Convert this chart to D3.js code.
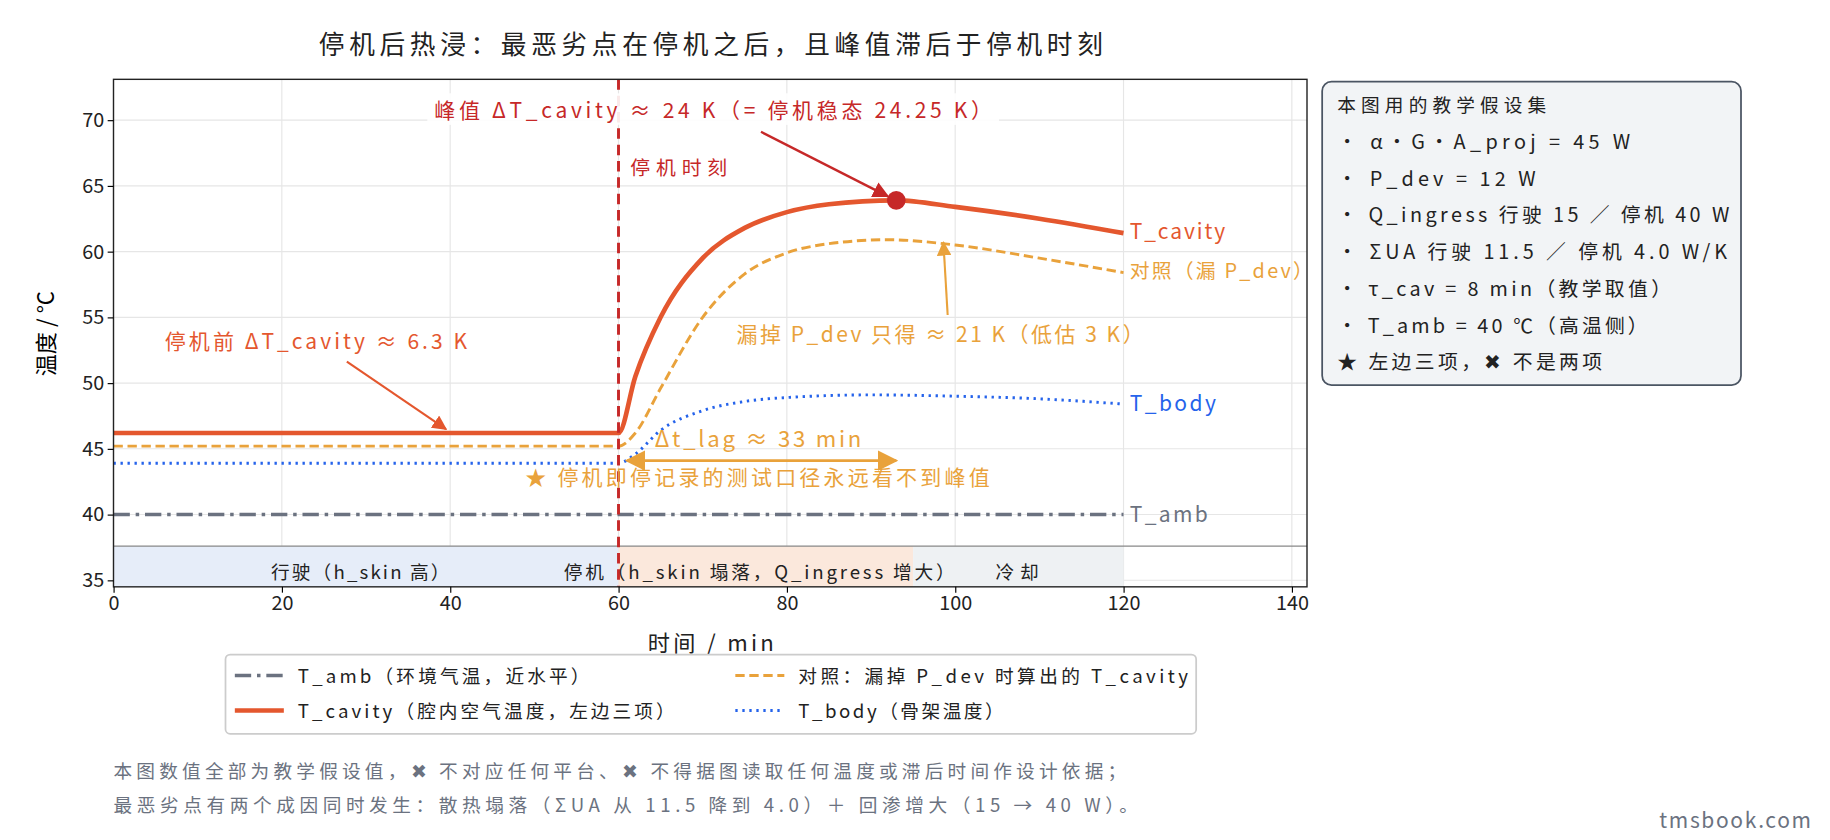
<!DOCTYPE html><html><head><meta charset="utf-8"><script src="https://cdn.jsdelivr.net/npm/d3@7"></script>
<style>body{margin:0;background:#fff}text{font-family:"Noto Sans CJK SC","Noto Sans",sans-serif}</style></head><body>
<svg id="c" width="1830" height="840" viewBox="0 0 1568 720"></svg>
<script>
const tCav=[0,60,62,65,70,75,80,85,93,100,110,120];
const vCav=[46.2,46.2,50.5,55,59.5,61.8,63,63.6,63.9,63.4,62.5,61.4];
const tCtl=[0,60,62,65,70,75,80,85,92,100,110,120];
const vCtl=[45.2,45.2,46.2,49.6,55,58.3,59.9,60.6,60.9,60.5,59.5,58.4];
const tBody=[0,60,62,65,70,75,80,90,100,110,120];
const vBody=[43.9,43.9,44.6,46.4,47.9,48.6,48.9,49.1,49.0,48.8,48.4];
const tAmb=[0,120], vAmb=[40,40];
const xTicks=[0,20,40,60,80,100,120,140], yTicks=[35,40,45,50,55,60,65,70];
const phases=[{a:0,b:60,c:"#e6edf9"},{a:60,b:95,c:"#fbe8dc"},{a:95,b:120,c:"#eef1f3"}];
const svg=d3.select("#c");
const x=d3.scaleLinear().domain([0,141.8]).range([97,1120]);
const y=d3.scaleLinear().domain([34.5,73.1]).range([503,68]);
svg.append("g").selectAll("line").data(xTicks).join("line").attr("x1",d=>x(d)).attr("x2",d=>x(d)).attr("y1",68).attr("y2",503).attr("stroke","#e6e6e6");
svg.append("g").selectAll("line").data(yTicks).join("line").attr("y1",d=>y(d)).attr("y2",d=>y(d)).attr("x1",97).attr("x2",1120).attr("stroke","#e6e6e6");
phases.forEach(p=>svg.append("rect").attr("x",x(p.a)).attr("width",x(p.b)-x(p.a)).attr("y",y(37.6)).attr("height",503-y(37.6)).attr("fill",p.c));
svg.append("line").attr("x1",97).attr("x2",1120).attr("y1",y(37.6)).attr("y2",y(37.6)).attr("stroke","#888").attr("stroke-width",1.2);
const ln=d3.line().x(d=>x(d[0])).y(d=>y(d[1])).curve(d3.curveMonotoneX);
const z=(a,b)=>a.map((t,i)=>[t,b[i]]);
svg.append("path").attr("d",ln(z(tAmb,vAmb))).attr("fill","none").attr("stroke","#6b7280").attr("stroke-width",3).attr("stroke-dasharray","14 5 3 5");
svg.append("path").attr("d",ln(z(tBody,vBody))).attr("fill","none").attr("stroke","#2563eb").attr("stroke-width",2.5).attr("stroke-dasharray","2 4");
svg.append("path").attr("d",ln(z(tCtl,vCtl))).attr("fill","none").attr("stroke","#e9a23b").attr("stroke-width",2.5).attr("stroke-dasharray","8 4");
svg.append("path").attr("d",ln(z(tCav,vCav))).attr("fill","none").attr("stroke","#e4572e").attr("stroke-width",4);
svg.append("line").attr("x1",x(60)).attr("x2",x(60)).attr("y1",68).attr("y2",503).attr("stroke","#c62828").attr("stroke-width",2.5).attr("stroke-dasharray","9 5");
svg.append("circle").attr("cx",x(93)).attr("cy",y(63.9)).attr("r",8).attr("fill","#c62828");
svg.append("rect").attr("x",97).attr("y",68).attr("width",1023).attr("height",435).attr("fill","none").attr("stroke","#222").attr("stroke-width",1.2);
svg.append("g").attr("transform","translate(0,503)").call(d3.axisBottom(x).tickValues(xTicks).tickSize(5)).call(g=>{g.select(".domain").remove();g.selectAll("text").attr("font-size",17).attr("fill","#222")});
svg.append("g").attr("transform","translate(97,0)").call(d3.axisLeft(y).tickValues(yTicks).tickSize(5)).call(g=>{g.select(".domain").remove();g.selectAll("text").attr("font-size",17).attr("fill","#222")});
const T=(s,xx,yy,o={})=>{const t=svg.append("text").attr("x",xx).attr("y",yy).attr("font-size",o.fs||17).attr("fill",o.c||"#222").text(s);if(o.w)t.attr("textLength",o.w).attr("lengthAdjust","spacing");return t;};
T("停机后热浸：最恶劣点在停机之后，且峰值滞后于停机时刻",273,46,{fs:22,w:672});
T("时间 / min",555,558,{fs:19,w:108});
svg.append("text").attr("transform","translate(46,286) rotate(-90)").attr("font-size",19).attr("text-anchor","middle").text("温度 / °C");
const defs=svg.append("defs");
[["ar","#c62828"],["ao","#e4572e"],["ay","#e9a23b"]].forEach(([id,c])=>defs.append("marker").attr("id",id).attr("viewBox","0 0 10 10").attr("refX",9).attr("refY",5).attr("markerWidth",7).attr("markerHeight",7).attr("orient","auto-start-reverse").append("path").attr("d","M0,0L10,5L0,10z").attr("fill",c));
svg.append("rect").attr("x",366).attr("y",80).attr("width",490).attr("height",27).attr("fill","#fff").attr("opacity",0.9);
T("峰值 ΔT_cavity ≈ 24 K（= 停机稳态 24.25 K）",372,101,{c:"#c62828",fs:18,w:478});
svg.append("line").attr("x1",652).attr("y1",113).attr("x2",x(92)).attr("y2",y(64.2)).attr("stroke","#c62828").attr("stroke-width",2).attr("marker-end","url(#ar)");
T("停机时刻",540,150,{c:"#c62828",w:83});
T("停机前 ΔT_cavity ≈ 6.3 K",141,299,{c:"#e4572e",fs:18,w:259});
svg.append("line").attr("x1",297).attr("y1",310).attr("x2",x(39.5)).attr("y2",y(46.5)).attr("stroke","#e4572e").attr("stroke-width",1.8).attr("marker-end","url(#ao)");
T("漏掉 P_dev 只得 ≈ 21 K（低估 3 K）",631,293,{c:"#e9a23b",fs:18,w:349});
svg.append("line").attr("x1",812).attr("y1",270).attr("x2",x(98.6)).attr("y2",y(60.7)).attr("stroke","#e9a23b").attr("stroke-width",1.8).attr("marker-end","url(#ay)");
T("Δt_lag ≈ 33 min",561,383,{c:"#e9a23b",fs:19,w:177});
svg.append("line").attr("x1",x(61)).attr("y1",y(44.1)).attr("x2",x(93)).attr("y2",y(44.1)).attr("stroke","#e9a23b").attr("stroke-width",2.5).attr("marker-start","url(#ay)").attr("marker-end","url(#ay)");
T("★ 停机即停记录的测试口径永远看不到峰值",450,416,{c:"#e9a23b",fs:18,w:398});
T("T_cavity",968,205,{c:"#e4572e",fs:18,w:82});
T("对照（漏 P_dev）",968,238,{c:"#e9a23b",fs:17,w:157});
T("T_body",968,352,{c:"#2563eb",fs:18,w:74});
T("T_amb",968,447,{c:"#6b7280",fs:18,w:67});
T("行驶（h_skin 高）",232,496,{fs:16,w:153});
T("停机（h_skin 塌落，Q_ingress 增大）",483,496,{fs:16,w:335});
T("冷却",853,496,{fs:16,w:37});
svg.append("rect").attr("x",1133).attr("y",70).attr("width",359).attr("height",260).attr("rx",8).attr("fill","#f2f4f6").attr("stroke","#4b5563").attr("stroke-width",1.5);
const box=["本图用的教学假设集","・ α・G・A_proj = 45 W","・ P_dev = 12 W","・ Q_ingress 行驶 15 ／ 停机 40 W","・ ΣUA 行驶 11.5 ／ 停机 4.0 W/K","・ τ_cav = 8 min（教学取值）","・ T_amb = 40 ℃（高温侧）","★ 左边三项，✖ 不是两项"];
const boxW=[179,251,170,336,334,286,266,227];
box.forEach((s,i)=>T(s,1146,96+i*31.5,{fs:i?17:16,w:boxW[i]}));
svg.append("rect").attr("x",193).attr("y",561).attr("width",832).attr("height",68).attr("rx",4).attr("fill","#fff").attr("stroke","#ccc").attr("stroke-width",1.5);
const leg=[{s:"T_amb（环境气温，近水平）",c:"#6b7280",d:"14 5 3 5",w:3,x:201,y:579,tw:250},{s:"T_cavity（腔内空气温度，左边三项）",c:"#e4572e",d:null,w:4,x:201,y:609,tw:323},{s:"对照：漏掉 P_dev 时算出的 T_cavity",c:"#e9a23b",d:"8 4",w:2.5,x:630,y:579,tw:334},{s:"T_body（骨架温度）",c:"#2563eb",d:"2 4",w:2.5,x:630,y:609,tw:176}];
leg.forEach(l=>{svg.append("line").attr("x1",l.x).attr("x2",l.x+42).attr("y1",l.y).attr("y2",l.y).attr("stroke",l.c).attr("stroke-width",l.w).attr("stroke-dasharray",l.d);T(l.s,l.x+54,l.y+6,{fs:16,w:l.tw});});
T("本图数值全部为教学假设值，✖ 不对应任何平台、✖ 不得据图读取任何温度或滞后时间作设计依据；",97,667,{c:"#6b7280",fs:16,w:868});
T("最恶劣点有两个成因同时发生：散热塌落（ΣUA 从 11.5 降到 4.0）＋ 回渗增大（15 → 40 W）。",97,696,{c:"#6b7280",fs:16,w:878});
T("tmsbook.com",1422,710,{c:"#6b7280",fs:18,w:130});
</script></body></html>
